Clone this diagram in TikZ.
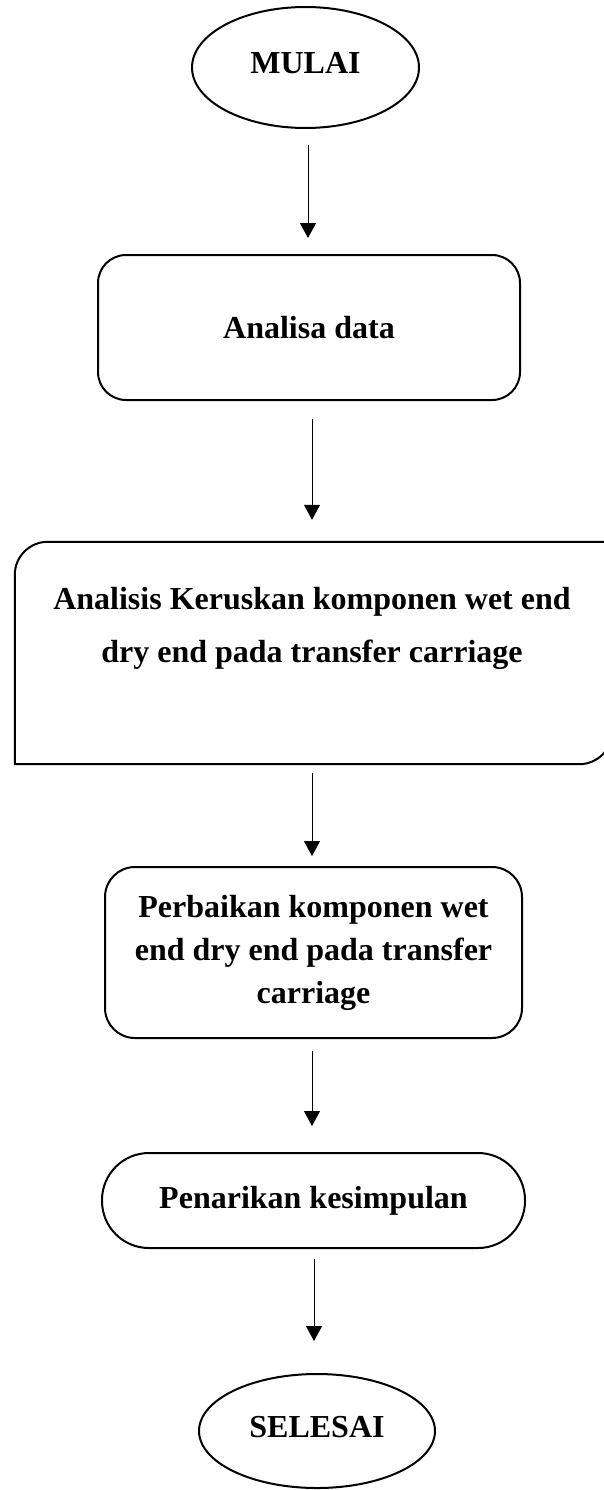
\documentclass[tikz,border=0pt]{standalone}
\usepackage{fontspec}
\setmainfont{Liberation Serif}
\usetikzlibrary{shapes.geometric,arrows.meta,calc}
\begin{document}
\begin{tikzpicture}[x=1pt,y=-1pt,
  txt/.style={font=\fontsize{32}{43}\selectfont\bfseries, align=center},
  shapeline/.style={line width=2pt},
  oval/.style={shapeline, draw, ellipse, inner sep=0pt},
  rbox/.style={shapeline, draw, rectangle, inner sep=0pt},
  arr/.style={line width=1pt, -{Triangle[width=16pt,length=15pt]}}]
\useasboundingbox (0,0) rectangle (603,1490);
\node[oval, minimum width=227pt, minimum height=121pt, txt] (mulai) at (305.5,67.5) {\raisebox{9pt}{MULAI}};
\node[rbox, rounded corners=28pt, minimum width=422pt, minimum height=145pt, txt] (b2) at (309,327.5) {Analisa data};
\node[inner sep=0pt, minimum width=597pt, minimum height=222pt] (b3) at (313.5,653) {};
\draw[shapeline] (b3.south west) -- ([yshift=-33pt]b3.north west) arc[start angle=180, end angle=90, radius=33pt] -- (b3.north east) -- ([yshift=33pt]b3.south east) arc[start angle=0, end angle=-90, radius=33pt] -- cycle;
\node[txt, font=\fontsize{32}{53}\selectfont\bfseries] (b3t) at (312,628) {Analisis Keruskan komponen wet end\\dry end pada transfer carriage};
\node[rbox, rounded corners=30pt, minimum width=417pt, minimum height=171pt, txt] (b4) at (313.5,952.5) {Perbaikan komponen wet\\end dry end pada transfer\\carriage};
\node[rbox, rounded corners=47pt, minimum width=423pt, minimum height=95pt, txt] (b5) at (313.5,1200.5) {Penarikan kesimpulan};
\node[oval, minimum width=236pt, minimum height=114pt, txt] (selesai) at (317,1431) {\raisebox{8pt}{SELESAI}};
\draw[arr] ($(mulai.south)+(2.5,16)$) -- ($(mulai.south |- b2.north)+(2.5,-16)$);
\draw[arr] ($(b2.south)+(3,18)$) -- ($(b2.south |- b3.north)+(3,-22)$);
\draw[arr] ($(b3.south)+(-1.5,9)$) -- ($(b3.south |- b4.north)+(-1.5,-10)$);
\draw[arr] ($(b4.south)+(-1.5,12)$) -- ($(b4.south |- b5.north)+(-1.5,-26)$);
\draw[arr] ($(b5.south)+(0.5,10)$) -- ($(b5.south |- selesai.north)+(0.5,-32)$);
\end{tikzpicture}
\end{document}
